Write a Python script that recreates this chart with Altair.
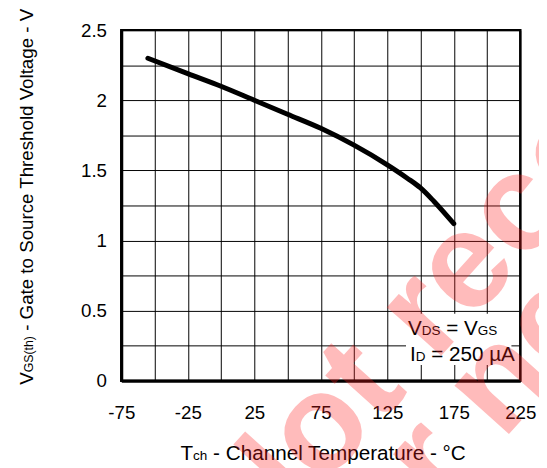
import altair as alt
import pandas as pd

# Curve data
temps = [-55, -25, 0, 25, 50, 75, 100, 125, 140, 150, 160, 175]
vth = [2.30, 2.19, 2.10, 2.00, 1.90, 1.80, 1.68, 1.54, 1.445, 1.375, 1.28, 1.12]

x_ticks = list(range(-75, 226, 25))
y_ticks = [i * 0.25 for i in range(11)]

W, H = 405, 356
FONT = "Liberation Sans"

df = pd.DataFrame({"t": temps, "v": vth})
one = pd.DataFrame({"a": [0]})

xs = alt.Scale(domain=[-75, 225], nice=False, zero=False)
ys = alt.Scale(domain=[0, 2.5], nice=False, zero=False)

x_axis = alt.Axis(
    values=x_ticks,
    labelExpr="((datum.value + 75) % 50 == 0) ? '' + datum.value : ''",
    title=None, grid=True, ticks=False, tickSize=0, labelPadding=23,
    labelOverlap=False, labelFlush=False,
)
y_axis = alt.Axis(
    values=y_ticks,
    labelExpr="(round(datum.value * 4) % 2 == 0) ? '' + datum.value : ''",
    title=None, grid=True, ticks=False, tickSize=0, labelPadding=15,
    labelOverlap=False, labelFlush=False,
)

curve = alt.Chart(df).mark_line(
    color="black", strokeWidth=5, interpolate="monotone", strokeCap="round"
).encode(
    x=alt.X("t:Q", scale=xs, axis=x_axis),
    y=alt.Y("v:Q", scale=ys, axis=y_axis),
)

legend_box = alt.Chart(one).mark_rect(color="white").encode(
    x=alt.value(289), x2=alt.value(396), y=alt.value(288), y2=alt.value(340)
)


def txt(s, x, y, size, angle=0, **kw):
    props = dict(align="left", baseline="alphabetic", fontSize=size, font=FONT,
                 color="black")
    if angle:
        props["angle"] = angle
    props.update(kw)
    return alt.Chart(one).mark_text(**props).encode(
        x=alt.value(x), y=alt.value(y), text=alt.value(s)
    )


# Legend text (with subscripts)
leg = [
    txt("V", 291, 309, 21),
    txt("DS", 305, 309, 13.7),
    txt("= V", 329.8, 309, 21),
    txt("GS", 361.9, 309, 13.7),
    txt("I", 293, 336, 21),
    txt("D", 298.8, 336, 13.7),
    txt("= 250 \u00b5A", 314.5, 336, 21),
]

# X title
xt = [
    txt("T", 60, 436, 21),
    txt("ch", 72.8, 436, 13.7),
    txt("- Channel Temperature - \u00b0C", 93.2, 436, 21),
]

# Y title (rotated)
yt = [
    txt("V", -90, 360, 19, angle=270),
    txt("GS(th)", -90, 347.3, 12.5, angle=270),
    txt("- Gate to Source Threshold Voltage - V", -90, 305.2, 19, angle=270),
]

# Watermark
wm = [
    txt("Not recommended", 136, 540, 140, angle=312, fontWeight="bold",
        color="#ff2020", opacity=0.3),
    txt("for new design", 236, 585, 140, angle=312, fontWeight="bold",
        color="#ff2020", opacity=0.3),
]

chart = alt.layer(legend_box, curve, *leg, *xt, *yt, *wm).properties(
    width=W, height=H,
    autosize=alt.AutoSizeParams(type="none"),
    padding={"left": 115, "top": 19, "right": 19, "bottom": 85},
).configure_view(
    stroke="black", strokeWidth=2.5
).configure_axis(
    gridColor="black", gridWidth=1, gridOpacity=1,
    domainColor="black", domainWidth=3,
    labelFont=FONT, labelFontSize=19, labelColor="black",
)

chart.save("out.html", embed_options={"renderer": "svg", "actions": False})
